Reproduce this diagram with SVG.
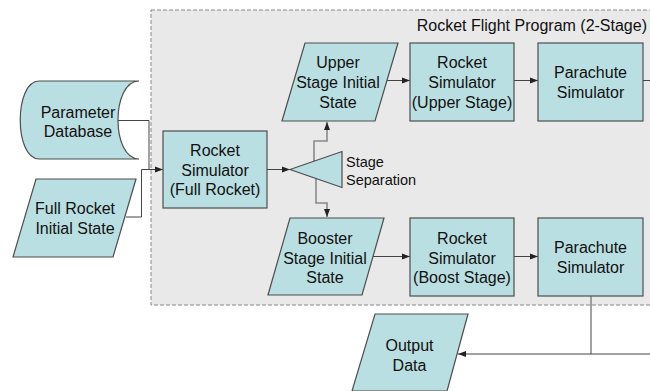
<svg xmlns="http://www.w3.org/2000/svg" width="650" height="391" viewBox="0 0 650 391">
<style>
.shape{fill:#badfe2;stroke:#4d4d4d;stroke-width:1.2}
.t{font-family:"Liberation Sans",Arial,sans-serif;font-size:16px;fill:#111;text-anchor:middle}
.ts{font-family:"Liberation Sans",Arial,sans-serif;font-size:14.5px;fill:#111}
.c{fill:none;stroke:#444;stroke-width:1}
.cg{fill:none;stroke:#8a8a8a;stroke-width:1.6}
</style>
<defs>
<marker id="ah" viewBox="0 0 8 8" refX="8" refY="4" markerWidth="8" markerHeight="8" markerUnits="userSpaceOnUse" orient="auto">
<path d="M0,1 L8,4 L0,7 Z" fill="#222"/>
</marker>
</defs>
<rect x="0" y="0" width="650" height="391" fill="#fff"/>
<g id="container">
<rect x="151" y="10" width="510" height="295" fill="#e9e9e9" stroke="#888" stroke-width="1" stroke-dasharray="4,2"/>
<text x="647" y="31" font-family="'Liberation Sans',Arial,sans-serif" font-size="16" fill="#111" text-anchor="end">Rocket Flight Program (2-Stage)</text>
</g>
<g id="connectors">
<path class="c" d="M118,120.5 H149 V169.5"/>
<path class="c" d="M126,217 H141.5 V169.5 H163" marker-end="url(#ah)"/>
<path class="c" d="M267,169.5 H290" marker-end="url(#ah)"/>
<path class="cg" d="M314,161 V141 H327 V122" marker-end="url(#ah)"/>
<path class="cg" d="M316,178 V203 H327 V217" marker-end="url(#ah)"/>
<path class="c" d="M387,80.5 H410" marker-end="url(#ah)"/>
<path class="c" d="M514,80.5 H538" marker-end="url(#ah)"/>
<path class="c" d="M643,80.5 H650"/>
<path class="c" d="M373,256.5 H410" marker-end="url(#ah)"/>
<path class="c" d="M514,256.5 H538" marker-end="url(#ah)"/>
<path class="cg" d="M591,296 V354"/>
<path class="c" d="M650,354 H458" marker-end="url(#ah)"/>
</g>
<g id="param-db">
<path class="shape" d="M39,81 L139,81 C111,81 111,159 139,159 L39,159 C14,159 14,81 39,81 Z"/>
<text class="t" x="78" y="118">Parameter</text>
<text class="t" x="78" y="137">Database</text>
</g>
<g id="full-rocket-state">
<polygon class="shape" points="36,179 136,179 113,257 13,257"/>
<text class="t" x="75" y="214">Full Rocket</text>
<text class="t" x="75" y="234">Initial State</text>
</g>
<g id="sim-full">
<rect class="shape" x="163" y="131" width="104" height="77"/>
<text class="t" x="215" y="156">Rocket</text>
<text class="t" x="215" y="176">Simulator</text>
<text class="t" x="215" y="195">(Full Rocket)</text>
</g>
<g id="stage-sep">
<polygon class="shape" points="290,169.5 342,151.5 342,187.5"/>
<text class="ts" x="346" y="167">Stage</text>
<text class="ts" x="346" y="185">Separation</text>
</g>
<g id="upper-state">
<polygon class="shape" points="305,43 398,43 375,121 282,121"/>
<text class="t" x="338" y="68">Upper</text>
<text class="t" x="338" y="88">Stage Initial</text>
<text class="t" x="338" y="108">State</text>
</g>
<g id="sim-upper">
<rect class="shape" x="410" y="43" width="104" height="78"/>
<text class="t" x="462" y="68">Rocket</text>
<text class="t" x="462" y="88">Simulator</text>
<text class="t" x="462" y="108">(Upper Stage)</text>
</g>
<g id="para-upper">
<rect class="shape" x="538" y="43" width="105" height="78"/>
<text class="t" x="590.5" y="78">Parachute</text>
<text class="t" x="590.5" y="98">Simulator</text>
</g>
<g id="booster-state">
<polygon class="shape" points="290,218 384,218 362,295 268,295"/>
<text class="t" x="325" y="244">Booster</text>
<text class="t" x="325" y="264">Stage Initial</text>
<text class="t" x="325" y="283">State</text>
</g>
<g id="sim-boost">
<rect class="shape" x="410" y="218" width="104" height="78"/>
<text class="t" x="462" y="244">Rocket</text>
<text class="t" x="462" y="264">Simulator</text>
<text class="t" x="462" y="283">(Boost Stage)</text>
</g>
<g id="para-boost">
<rect class="shape" x="538" y="218" width="105" height="78"/>
<text class="t" x="590.5" y="253">Parachute</text>
<text class="t" x="590.5" y="273">Simulator</text>
</g>
<g id="output">
<polygon class="shape" points="375,314 468,314 447,391 352,391"/>
<text class="t" x="409.5" y="351">Output</text>
<text class="t" x="409.5" y="371">Data</text>
</g>
</svg>
